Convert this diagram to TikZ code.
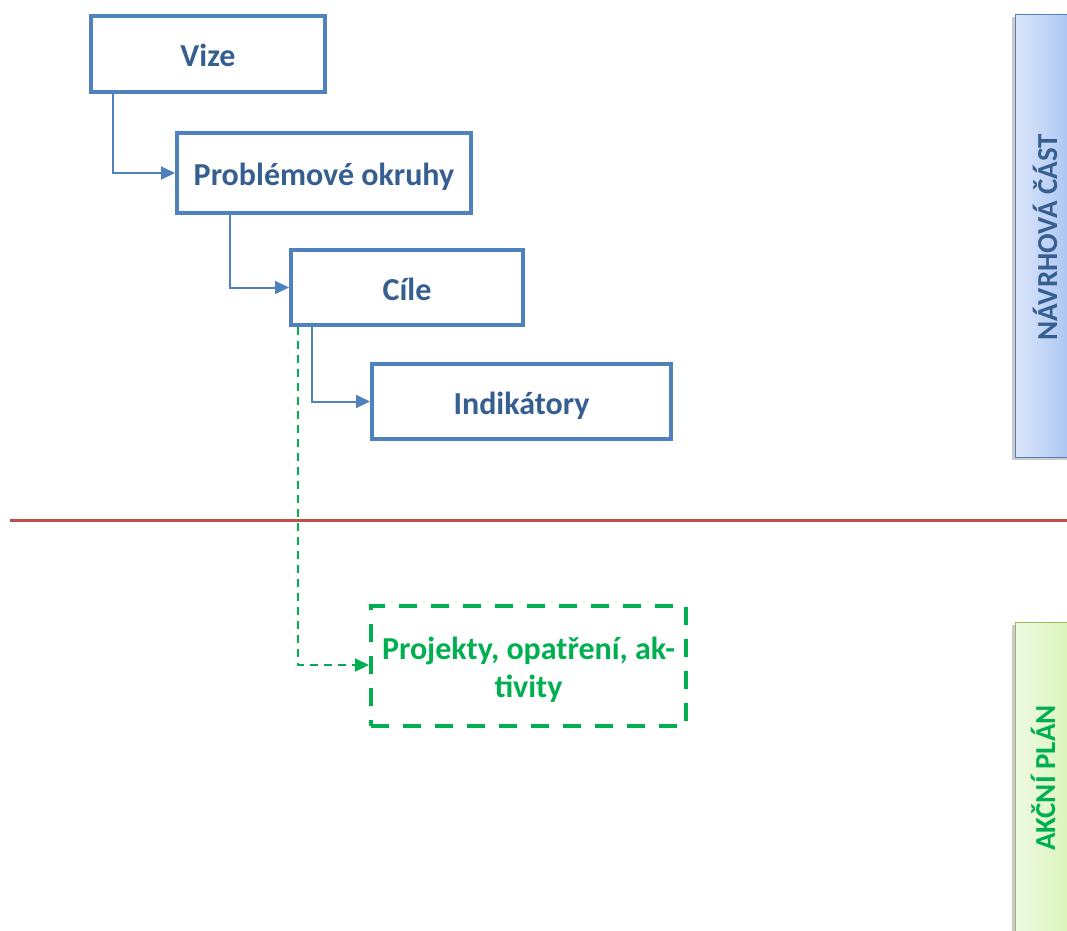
\documentclass[tikz,border=0pt]{standalone}
\usepackage{fontspec}
\setmainfont{Carlito}
\usetikzlibrary{arrows.meta,shadows}
\definecolor{bxblue}{HTML}{4F81BD}
\definecolor{txblue}{HTML}{365F91}
\definecolor{grn}{HTML}{00B050}
\definecolor{redl}{HTML}{C0504D}
\definecolor{pbl}{HTML}{DCE6FA}
\definecolor{pbr}{HTML}{A6C3F2}
\definecolor{pgl}{HTML}{EEF9E2}
\definecolor{pgr}{HTML}{D9F5B8}
\definecolor{pgb}{HTML}{9BBB59}
\begin{document}
\begin{tikzpicture}[x=1pt,y=-1pt,
  box/.style={draw=bxblue,line width=4pt,fill=white,inner sep=0pt,text height=25pt,text depth=0pt,
    font=\fontsize{32}{36}\selectfont\bfseries,text=txblue},
  conn/.style={draw=bxblue,line width=2pt,-{Triangle[length=14pt,width=13pt]}},
  gconn/.style={draw=grn,line width=2pt,dash pattern=on 8pt off 6pt,-{Triangle[length=14pt,width=13pt]}},
  panel/.style={line width=1pt,drop shadow={shadow xshift=-3pt,shadow yshift=-3pt,opacity=0.4}},
  ptext/.style={font=\fontsize{29}{34}\selectfont\bfseries,rotate=90}
]
\useasboundingbox (0,0) rectangle (1067,930);
\node[box,minimum width=234pt,minimum height=76pt] (vize) at (208,54) {Vize};
\node[box,minimum width=294pt,minimum height=80pt] (prob) at (324,173) {Problémové okruhy};
\node[box,minimum width=232pt,minimum height=75pt] (cile) at (407,287.5) {Cíle};
\node[box,minimum width=299pt,minimum height=75pt] (ind) at (521.5,401.5) {Indikátory};
\node[draw=grn,line width=4pt,dash pattern=on 18pt off 14pt,minimum width=315pt,minimum height=120pt,inner sep=0pt] (proj) at (528.5,666) {};
\node[align=center,text=grn,font=\fontsize{32}{38}\selectfont\bfseries,inner sep=0pt] (projt) at (528.5,670)
  {Projekty, opatření, ak-\\tivity};
\draw[conn] ([xshift=24pt]vize.south west) |- (prob.west);
\draw[conn] ([xshift=55pt]prob.south west) |- (cile.west);
\draw[conn] ([xshift=23pt]cile.south west) |- (ind.west);
\draw[gconn] ([xshift=9pt]cile.south west) |- ([yshift=1pt]proj.west);
\coordinate (rl) at (10,520);
\coordinate (rr) at (1067,520);
\draw[redl,line width=3pt] (rl) -- (rr);
\node[panel,draw=bxblue,left color=pbl,right color=pbr,minimum width=60pt,minimum height=443pt,inner sep=0pt] (nav) at (1045,235.5) {};
\node[ptext,text=txblue] (navt) at (1045,237) {NÁVRHOVÁ ČÁST};
\node[panel,draw=pgb,left color=pgl,right color=pgr,minimum width=60pt,minimum height=330pt,inner sep=0pt] (akc) at (1045,787) {};
\node[ptext,text=grn] (akct) at (1043,778) {AKČNÍ PLÁN};
\end{tikzpicture}
\end{document}
